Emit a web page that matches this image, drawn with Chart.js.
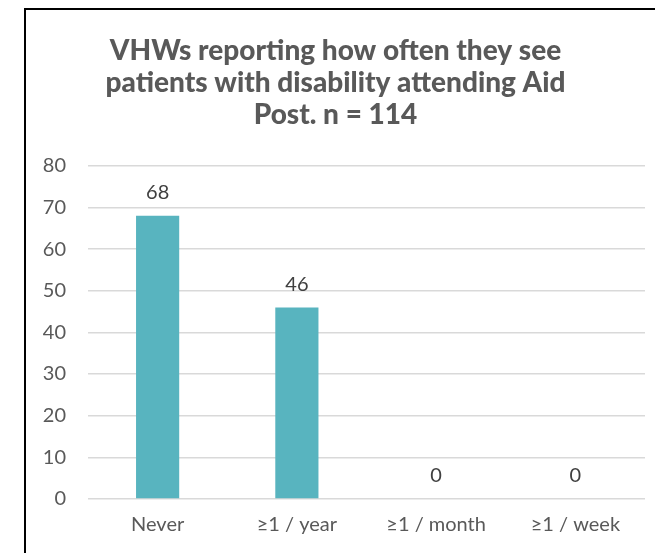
<!DOCTYPE html>
<html lang="en">
<head>
  <meta charset="UTF-8" />
  <title>VHWs reporting how often they see patients with disability</title>
  <script src="https://cdn.jsdelivr.net/npm/chart.js"></script>
  <style>
    html, body { margin: 0; padding: 0; background: #fff; overflow: hidden; }
    #frame {
      position: absolute; left: 24px; top: 8px;
      width: 645px; height: 560px;
      border-top: 2px solid #000; border-left: 2px solid #000;
    }
    #chart { display: block; }
  </style>
</head>
<body>
  <div id="frame"><canvas id="chart" width="645" height="543"></canvas></div>

  <script>
    // data
    const categories = ['Never', '≥1 / year', '≥1 / month', '≥1 / week'];
    const counts = [68, 46, 0, 0];
    const titleLines = ['VHWs reporting how often they see', 'patients with disability attending Aid', 'Post. n = 114'];
    const yMax = 80;
    const yStep = 10;

    const font = "'Lato', 'Open Sans', sans-serif";

    // little value-label plugin (no datalabels plugin offline)
    const valueLabels = {
      id: 'valueLabels',
      afterDatasetsDraw(chart) {
        const { ctx } = chart;
        const meta = chart.getDatasetMeta(0);
        ctx.save();
        ctx.font = '20px ' + font;
        ctx.fillStyle = '#404040';
        ctx.textAlign = 'center';
        ctx.textBaseline = 'middle';
        meta.data.forEach((bar, i) => {
          ctx.fillText(String(counts[i]), bar.x, bar.y - 23);
        });
        ctx.restore();
      }
    };

    new Chart(document.getElementById('chart'), {
      type: 'bar',
      data: {
        labels: categories,
        datasets: [{
          data: counts,
          backgroundColor: '#58B4BF',
          categoryPercentage: 1,
          barPercentage: 0.31
        }]
      },
      options: {
        responsive: false,
        animation: false,
        layout: { padding: { left: 0, right: 26, top: 0, bottom: 0 } },
        plugins: {
          legend: { display: false },
          tooltip: { enabled: false },
          title: {
            display: true,
            text: titleLines,
            color: '#595959',
            font: { family: font, size: 28, weight: '900', lineHeight: 1.14 },
            padding: { top: 25, bottom: 35 }
          }
        },
        scales: {
          x: {
            grid: { display: false, drawTicks: false },
            border: { display: false },
            ticks: { color: '#595959', font: { family: font, size: 20 }, padding: 14 },
            afterFit(scale) { scale.height = 54; }
          },
          y: {
            min: 0,
            max: yMax,
            grid: { color: '#d9d9d9', lineWidth: 1.5, drawTicks: false },
            border: { display: false },
            ticks: { stepSize: yStep, color: '#595959', font: { family: font, size: 20 }, padding: 22 },
            afterFit(scale) { scale.width = 62; }
          }
        }
      },
      plugins: [valueLabels]
    });
  </script>
</body>
</html>
